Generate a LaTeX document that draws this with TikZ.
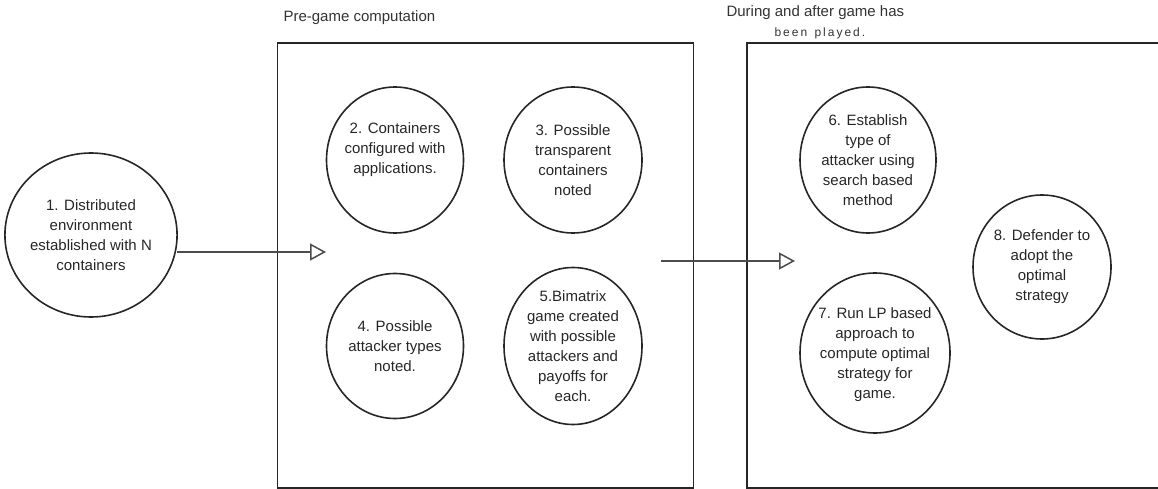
\documentclass[tikz,border=0pt]{standalone}
\usepackage{fontspec}
\setmainfont{Liberation Sans}
\usetikzlibrary{shapes.geometric,arrows.meta}
\begin{document}
\begin{tikzpicture}[x=1pt,y=-1pt,
  circ/.style={draw=black!85,line width=1.6pt,ellipse,inner sep=0pt},
  txt/.style={align=center,font=\fontsize{15}{20}\selectfont,text=black!85},
  title/.style={anchor=west,font=\fontsize{15}{18}\selectfont,text=black!80},
  frame/.style={draw=black!85,line width=1.8pt},
  flow/.style={draw=black!70,line width=1.5pt,-{Triangle[open,length=16pt,width=17pt,line width=1.5pt]}}]
\useasboundingbox (0,0) rectangle (1158,489);
\clip (0,0) rectangle (1158,489);
% frames
\node[frame,minimum width=416pt,minimum height=445pt,inner sep=0pt] (b1) at (485.5,265.5) {};
\node[frame,minimum width=440pt,minimum height=445pt,inner sep=0pt] (b2) at (967,265.5) {};
% titles
\node[title] (t1) at (280,18) {Pre-game computation};
\node[title] (t2) at (723,13) {During and after game has};
\node[title,font=\fontsize{12}{14}\selectfont] (t3) at (771,33) {b\,e\,e\,n\, \,p\,l\,a\,y\,e\,d\,.};
% circles
\node[circ,minimum width=166pt,minimum height=164pt,txt] (c1) at (91,235) {1. Distributed\\environment\\established with N\\containers};
\node[circ,minimum width=137pt,minimum height=146pt] (c2) at (395,160) {};
\node[txt] (c2t) at (395,150) {2. Containers\\configured with\\applications.};
\node[circ,minimum width=138pt,minimum height=146pt,txt] (c3) at (573,160) {3. Possible\\transparent\\containers\\noted};
\node[circ,minimum width=137pt,minimum height=145pt,txt] (c4) at (395,346) {4. Possible\\attacker types\\noted.};
\node[circ,minimum width=138pt,minimum height=145pt,txt] (c5) at (573,346) {5.Bimatrix\\game created\\with possible\\attackers and\\payoffs for\\each.};
\node[circ,minimum width=136pt,minimum height=146pt,txt] (c6) at (868,160) {6. Establish\\type of\\attacker using\\search based\\method};
\node[circ,minimum width=150pt,minimum height=160pt] (c7) at (875,353) {};
\node[txt] (c7t) at (875,355) {7. Run LP based\\approach to\\compute optimal\\strategy for\\game.};
\node[circ,minimum width=138pt,minimum height=144pt,txt] (c8) at (1042,267) {8. Defender to\\adopt the\\optimal\\strategy};
% arrows
\coordinate (a1s) at (177,252);
\coordinate (a1e) at (326,252);
\coordinate (a2s) at (661,261);
\coordinate (a2e) at (795,261);
\draw[flow] (a1s) -- (a1e);
\draw[flow] (a2s) -- (a2e);
\end{tikzpicture}
\end{document}
